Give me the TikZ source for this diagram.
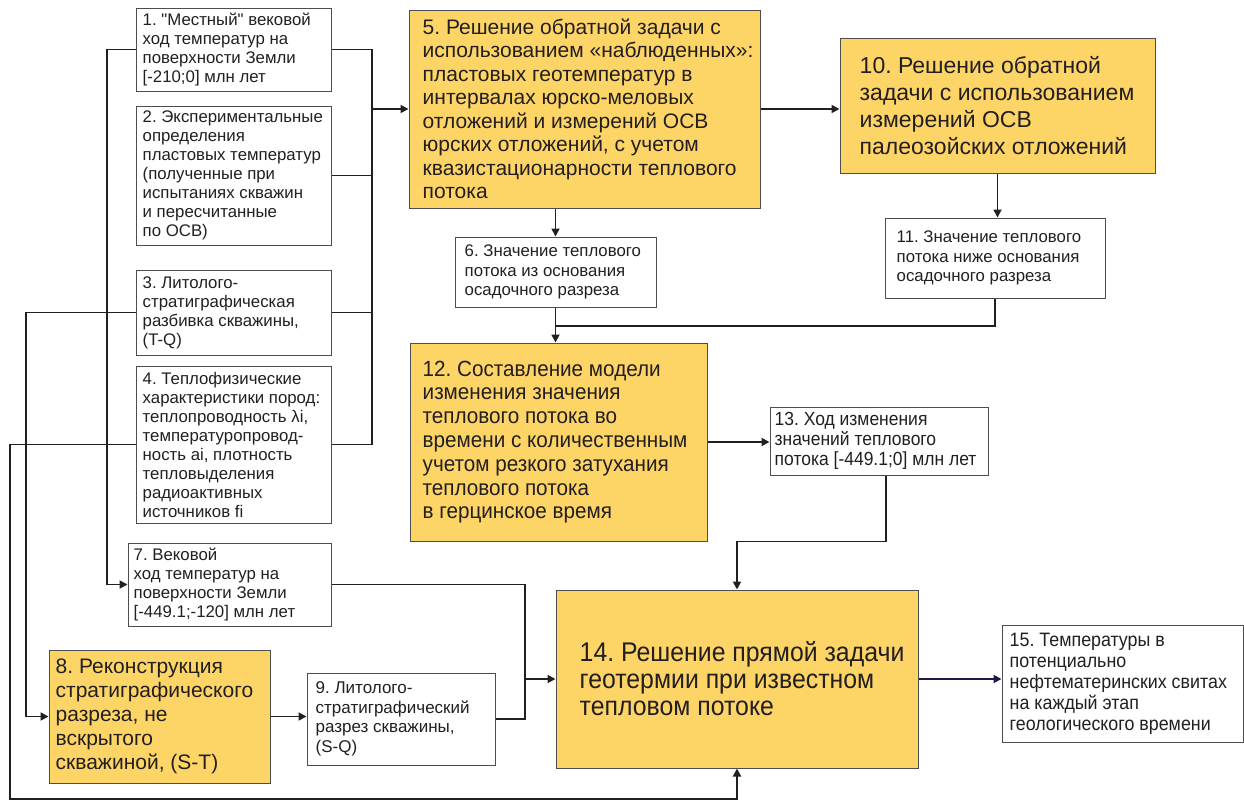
\documentclass[tikz,border=0pt]{standalone}
\usepackage{fontspec}
\setmainfont{Liberation Sans}[Ligatures=TeXOff]
\newfontfamily\narrowfont{Liberation Sans}[FakeStretch=0.92]
\newfontfamily\semifont{Liberation Sans}[FakeStretch=0.94]
\usetikzlibrary{arrows.meta,calc}
\definecolor{ink}{HTML}{231F20}
\definecolor{boxline}{HTML}{4D4D4D}
\definecolor{gold}{RGB}{253,212,102}
\definecolor{navy}{HTML}{1B1B4B}
\frenchspacing
% #1 box style, #2 text style, #3 name, #4..#7 x1 y1 x2 y2, #8 left padding, #9 text
\newcommand\mkbox[9]{%
  \pgfmathsetmacro\bw{#6-#4}\pgfmathsetmacro\bh{#7-#5}%
  \node[#1, minimum width=\bw pt, minimum height=\bh pt] (#3) at ({(#4+#6)/2},{(#5+#7)/2}) {};
  \node[boxtext, #2, anchor=west] (#3t) at ([xshift=#8pt]#3.west) {#9};}
\begin{document}
\begin{tikzpicture}[x=1pt,y=-1pt,
  wbox/.style={draw=boxline, line width=1pt, fill=white, inner sep=0pt},
  ybox/.style={wbox, fill=gold},
  boxtext/.style={text=ink, align=left, inner sep=0pt, font=\frenchspacing\fontsize{16.8}{19}\selectfont},
  conn/.style={draw=ink, line width=1.8pt},
  arr/.style={conn, -{Triangle[length=8pt,width=8pt]}},
]
\useasboundingbox (0,0) rectangle (1244,801);

\mkbox{wbox}{}{b1}{136}{8}{331}{91}{7}{1. "Местный" вековой\\ход температур на\\поверхности Земли\\{[}-210;0] млн лет}
\mkbox{wbox}{}{b2}{136}{106}{331}{245}{7}{2. Экспериментальные\\определения\\пластовых температур\\(полученные при\\испытаниях скважин\\и пересчитанные\\по ОСВ)}
\mkbox{wbox}{}{b3}{136}{270}{331}{355}{7}{3. Литолого-\\стратиграфическая\\разбивка скважины,\\(T-Q)}
\mkbox{wbox}{}{b4}{136}{366}{331}{523}{7}{4. Теплофизические\\характеристики пород:\\теплопроводность λi,\\температуропровод-\\ность ai, плотность\\тепловыделения\\радиоактивных\\источников fi}
\mkbox{ybox}{font=\frenchspacing\fontsize{21}{23.5}\selectfont}{b5}{409}{10}{760}{208}{14}{5. Решение обратной задачи с\\использованием «наблюденных»:\\пластовых геотемператур в\\интервалах юрско-меловых\\отложений и измерений ОСВ\\юрских отложений, с учетом\\квазистационарности теплового\\потока}
\mkbox{wbox}{font=\frenchspacing\fontsize{16.8}{19.5}\selectfont}{b6}{455}{237}{656}{307}{10}{6. Значение теплового\\потока из основания\\осадочного разреза}
\mkbox{wbox}{}{b7}{128}{543}{331}{626}{6}{7. Вековой\\ход температур на\\поверхности Земли\\{[}-449.1;-120] млн лет}
\mkbox{ybox}{font=\frenchspacing\fontsize{21}{24}\selectfont}{b8}{49}{650}{270}{783}{7}{8. Реконструкция\\стратиграфического\\разреза, не\\вскрытого\\скважиной, (S-T)}
\mkbox{wbox}{font=\frenchspacing\fontsize{17}{19.5}\selectfont}{b9}{307}{673}{495}{765}{9}{9. Литолого-\\стратиграфический\\разрез скважины,\\(S-Q)}
\mkbox{ybox}{font=\frenchspacing\fontsize{23}{27}\selectfont}{b10}{840}{38}{1155}{173}{20}{10. Решение обратной\\задачи с использованием\\измерений ОСВ\\палеозойских отложений}
\mkbox{wbox}{font=\frenchspacing\fontsize{16.8}{19.5}\selectfont}{b11}{885}{218}{1105}{298}{12}{11. Значение теплового\\потока ниже основания\\осадочного разреза}
\mkbox{ybox}{font=\frenchspacing\semifont\fontsize{22}{23.8}\selectfont}{b12}{410}{343}{707}{541}{13}{12. Составление модели\\изменения значения\\теплового потока во\\времени с количественным\\учетом резкого затухания\\теплового потока\\в герцинское время}
\mkbox{wbox}{font=\frenchspacing\narrowfont\fontsize{19}{20}\selectfont}{b13}{770}{407}{988}{475}{5}{13. Ход изменения\\значений теплового\\потока [-449.1;0] млн лет}
\mkbox{ybox}{font=\frenchspacing\narrowfont\fontsize{27}{27}\selectfont}{b14}{556}{590}{918}{768}{24}{14. Решение прямой задачи\\геотермии при известном\\тепловом потоке}
\mkbox{wbox}{font=\frenchspacing\narrowfont\fontsize{19.4}{21}\selectfont}{b15}{1002}{625}{1243}{742}{8}{15. Температуры в\\потенциально\\нефтематеринских свитах\\на каждый этап\\геологического времени}

\coordinate (rb) at (372,109);
\coordinate (j1) at (0,326);
\coordinate (m) at (525,679);
\coordinate (l1) at (107,0);
\coordinate (l2) at (26,0);
\coordinate (l3) at (10,0);
\coordinate (bot) at (0,799);

\draw[conn] (b1.east) -- (b1.east -| rb) -- (b4.east -| rb) -- (b4.east);
\draw[conn] (b2.east) -- (b2.east -| rb);
\draw[conn] (b3.east) -- (b3.east -| rb);
\draw[arr] (rb) -- (b5.west);
\draw[arr] (b5.east) -- (b5.east -| b10.west);
\draw[arr] (b6.north |- b5.south) -- (b6.north);
\draw[arr] (b10.south) -- (b10.south |- b11.north);
\draw[arr] (b6.south) -- (b6.south |- b12.north);
\draw[conn] (b11.south) |- (b6.south |- j1);
\draw[arr] (b12.east) -- (b12.east -| b13.west);
\draw[arr] ([xshift=7pt]b13.south) -- ++(0,66) -| (b14.north);
\draw[arr, draw=navy] (b14.east) -- (b14.east -| b15.west);
\draw[conn] (b7.east) -| (m);
\draw[conn] (b9.east) -| (m);
\draw[arr] (m) -- (b14.west);
\draw[arr] (b8.east) -- (b8.east -| b9.west);
\draw[arr] (b1.west) -- (b1.west -| l1) |- (b7.west);
\draw[arr] (b3.west) -- (b3.west -| l2) |- (b8.west);
\draw[arr] (b4.west) -- (b4.west -| l3) -- (l3 |- bot) -| (b14.south);
\end{tikzpicture}
\end{document}
